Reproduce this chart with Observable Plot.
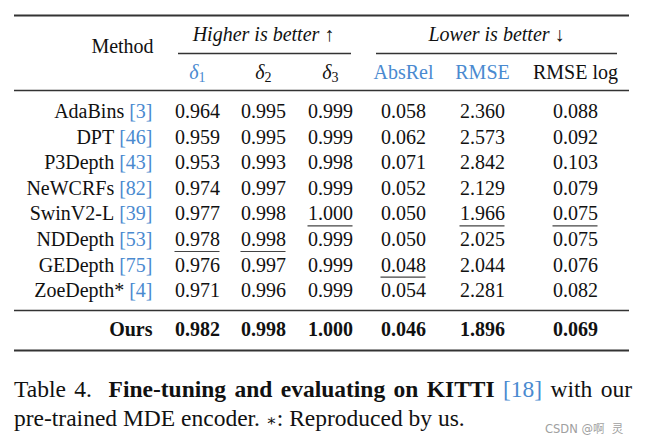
<!DOCTYPE html>
<html>
<head>
<meta charset="utf-8">
<script src="https://cdn.jsdelivr.net/npm/d3@7"></script>
<script src="https://cdn.jsdelivr.net/npm/@observablehq/plot@0.6"></script>
<style>
  html, body { margin: 0; padding: 0; background: #fff; }
  body { width: 645px; height: 444px; position: relative; overflow: hidden; }
  #chart svg { display: block; }
  .cap { position: absolute; left: 14px; width: 618px; font-family: "Liberation Serif", serif; font-size: 23.5px; line-height: normal; color: #111; white-space: nowrap; }
  .cap1 { top: 376px; text-align: justify; text-align-last: justify; }
  .cap2 { top: 405px; }
  .cap b { font-weight: bold; }
  .cite { color: #4a8ad0; }
  .ast { font-family: "DejaVu Serif", serif; font-size: 16px; }
  .wm { position: absolute; left: 545px; top: 420px; font-family: "DejaVu Sans", "Noto Sans CJK SC", sans-serif; font-size: 11.5px; color: #a0a0a0; }
</style>
</head>
<body>
<div id="chart"></div>
<div class="cap cap1">Table 4.&nbsp; <b>Fine-tuning and evaluating on KITTI</b> <span class="cite">[18]</span> with our</div>
<div class="cap cap2">pre-trained MDE encoder. <span class="ast">∗</span>: Reproduced by us.</div>
<div class="wm">CSDN @啊&nbsp; 灵</div>
<script>
// ---------- data ----------
const methods   = ["AdaBins", "DPT", "P3Depth", "NeWCRFs", "SwinV2-L", "NDDepth", "GEDepth", "ZoeDepth*"];
const citations = ["3", "46", "43", "82", "39", "53", "75", "4"];
const delta1  = ["0.964", "0.959", "0.953", "0.974", "0.977", "0.978", "0.976", "0.971"];
const delta2  = ["0.995", "0.995", "0.993", "0.997", "0.998", "0.998", "0.997", "0.996"];
const delta3  = ["0.999", "0.999", "0.998", "0.999", "1.000", "0.999", "0.999", "0.999"];
const absRel  = ["0.058", "0.062", "0.071", "0.052", "0.050", "0.050", "0.048", "0.054"];
const rmse    = ["2.360", "2.573", "2.842", "2.129", "1.966", "2.025", "2.044", "2.281"];
const rmseLog = ["0.088", "0.092", "0.103", "0.079", "0.075", "0.075", "0.076", "0.082"];
const oursLabel = "Ours";
const oursValues = ["0.982", "0.998", "1.000", "0.046", "1.896", "0.069"];
const metricKeys = ["d1", "d2", "d3", "absrel", "rmse", "rmselog"];
const secondBest = [["SwinV2-L", "d3"], ["SwinV2-L", "rmse"], ["SwinV2-L", "rmselog"],
                    ["NDDepth", "d1"], ["NDDepth", "d2"], ["GEDepth", "absrel"]];
const groupLabels = ["Higher is better ↑", "Lower is better ↓"];
const methodHeader = "Method";
const subHeaders = [
  {key: "d1", sub: "1", blue: true},
  {key: "d2", sub: "2", blue: false},
  {key: "d3", sub: "3", blue: false},
  {key: "absrel", text: "AbsRel", blue: true},
  {key: "rmse", text: "RMSE", blue: true},
  {key: "rmselog", text: "RMSE log", blue: false}
];

// ---------- layout ----------
const FONT = "Liberation Serif";
const FS = 20;
const INK = "#111";
const BLUE = "#4a8ad0";
const RULE = "#333";
const colX = {method: 152, d1: 197, d2: 263, d3: 330, absrel: 403, rmse: 482, rmselog: 575};
const rowY0 = 111, rowStep = 25.6;
const rowY = i => rowY0 + i * rowStep;
const oursY = 329;
const yTop = 15, yGroup = 34, yMethod = 46, yGroupRule = 53, ySub = 72, yHeadRule = 90, yOursRule = 310, yBottom = 350;
const tableX1 = 14, tableX2 = 629;
const groupSpans = [[178, 351], [376, 617]];

const ctx = document.createElement("canvas").getContext("2d");
ctx.font = `${FS}px "${FONT}"`;
const measure = s => ctx.measureText(s).width;

const columns = {d1: delta1, d2: delta2, d3: delta3, absrel: absRel, rmse: rmse, rmselog: rmseLog};
const cells = [];
methods.forEach((m, i) => {
  metricKeys.forEach(k => cells.push({method: m, col: k, y: rowY(i), text: columns[k][i]}));
});
const oursCells = metricKeys.map((k, j) => ({col: k, y: oursY, text: oursValues[j]}));
const cites = methods.map((m, i) => ({name: m, cite: `[${citations[i]}]`, y: rowY(i)}));
cites.forEach(c => { c.w = measure(c.cite); c.sp = measure(" "); });
const unders = secondBest.map(([m, k]) => {
  const i = methods.indexOf(m);
  const w = measure(columns[k][i]);
  return {x1: colX[k] - w / 2, x2: colX[k] + w / 2, y: rowY(i) + 12};
});
const deltas = subHeaders.filter(d => d.sub);
const words = subHeaders.filter(d => d.text);

const chart = Plot.plot({
  width: 645, height: 362, margin: 0,
  x: {type: "linear", domain: [0, 645], range: [0, 645], axis: null},
  y: {type: "linear", domain: [0, 362], range: [0, 362], axis: null},
  style: {fontFamily: FONT, background: "#fff"},
  marks: [
    // horizontal rules
    Plot.ruleY([yTop, yBottom], {x1: tableX1, x2: tableX2, stroke: RULE, strokeWidth: 2.2}),
    Plot.ruleY([yHeadRule, yOursRule], {x1: tableX1, x2: tableX2, stroke: RULE, strokeWidth: 1.4}),
    Plot.ruleY(groupSpans, {x1: d => d[0], x2: d => d[1], y: yGroupRule, stroke: RULE, strokeWidth: 1.4}),
    // headers
    Plot.text([methodHeader], {x: 122, y: yMethod, text: d => d, fontSize: FS, fill: INK}),
    Plot.text(groupLabels, {x: (d, i) => i === 0 ? 263 : 496, y: yGroup, text: d => d, fontSize: FS, fontStyle: "italic", fill: INK}),
    Plot.text(deltas, {x: d => colX[d.key] + 1, y: ySub, text: () => "δ", textAnchor: "end", fontSize: FS, fontStyle: "italic", fill: d => d.blue ? BLUE : INK}),
    Plot.text(deltas, {x: d => colX[d.key] + 1, y: ySub + 5, text: "sub", textAnchor: "start", fontSize: 14, fill: d => d.blue ? BLUE : INK}),
    Plot.text(words, {x: d => colX[d.key], y: ySub, text: "text", fontSize: FS, fill: d => d.blue ? BLUE : INK}),
    // method names + citations
    Plot.text(cites, {x: d => colX.method - d.w - d.sp, y: "y", text: "name", textAnchor: "end", fontSize: FS, fill: INK}),
    Plot.text(cites, {x: colX.method, y: "y", text: "cite", textAnchor: "end", fontSize: FS, fill: BLUE}),
    // values
    Plot.text(cells, {x: d => colX[d.col], y: "y", text: "text", fontSize: FS, fill: INK}),
    Plot.ruleY(unders, {x1: "x1", x2: "x2", y: "y", stroke: "#444", strokeWidth: 1.2}),
    // ours row
    Plot.text([oursLabel], {x: colX.method, y: oursY, text: d => d, textAnchor: "end", fontSize: FS, fontWeight: "bold", fill: INK}),
    Plot.text(oursCells, {x: d => colX[d.col], y: "y", text: "text", fontSize: FS, fontWeight: "bold", fill: INK})
  ]
});
document.getElementById("chart").append(chart);
</script>
</body>
</html>
